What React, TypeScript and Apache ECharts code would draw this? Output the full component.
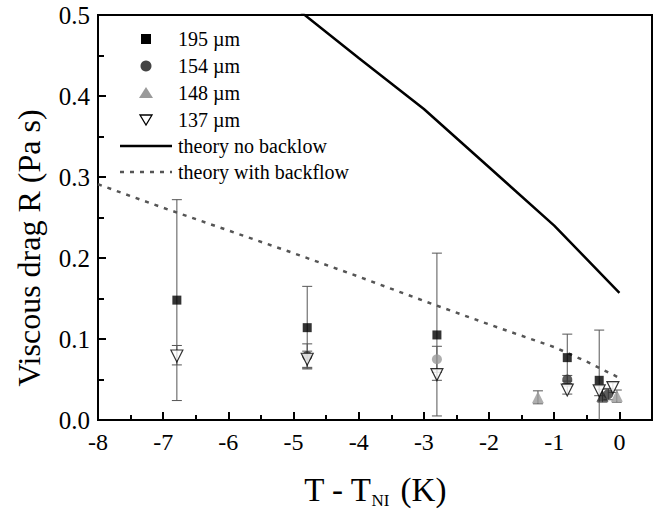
import React, { useEffect, useRef } from "react";
import * as echarts from "echarts";

const FONT = "Liberation Serif";

// x, y, low, high
const s195: number[][] = [
  [-6.79, 0.148, 0.024, 0.272],
  [-4.79, 0.114, 0.063, 0.165],
  [-2.8, 0.105, 0.005, 0.206],
  [-0.8, 0.077, 0.048, 0.106],
  [-0.31, 0.049, -0.013, 0.111],
];
const s154: number[][] = [
  [-4.79, 0.079, 0.064, 0.094],
  [-2.8, 0.075, 0.059, 0.091],
  [-0.8, 0.05, 0.045, 0.055],
  [-0.17, 0.032, 0.025, 0.039],
];
const s148: number[][] = [
  [-1.25, 0.028, 0.02, 0.036],
  [-0.26, 0.03, 0.022, 0.038],
  [-0.04, 0.03, 0.022, 0.037],
];
const s137: number[][] = [
  [-6.79, 0.079, 0.068, 0.092],
  [-4.79, 0.075, 0.065, 0.085],
  [-2.8, 0.056, 0.049, 0.062],
  [-0.8, 0.037, 0.032, 0.042],
  [-0.31, 0.036, 0.03, 0.042],
  [-0.1, 0.04, 0.034, 0.046],
];
const theoryNoBackflow: number[][] = [
  [-5, 0.511],
  [-4, 0.447],
  [-3, 0.384],
  [-2, 0.312],
  [-1, 0.24],
  [0, 0.157],
];
const theoryBackflow: number[][] = [
  [-8, 0.291],
  [-7, 0.262],
  [-6, 0.234],
  [-5, 0.206],
  [-4, 0.177],
  [-3, 0.147],
  [-2, 0.118],
  [-1, 0.09],
  [-0.5, 0.072],
  [0, 0.052],
];
const legendLabels = ["195 µm", "154 µm", "148 µm", "137 µm", "theory no backlow", "theory with backflow"];
const yTitle = "Viscous drag R (Pa s)";

const errSeries = (data: number[][]) => ({
  type: "custom",
  clip: true,
  z: 1,
  silent: true,
  data: data.map((d) => [d[0], d[2], d[3]]),
  renderItem: (params: any, api: any) => {
    const lo = api.coord([api.value(0), api.value(1)]);
    const hi = api.coord([api.value(0), api.value(2)]);
    const cw = 5;
    const st = { stroke: "#555", lineWidth: 1 };
    return {
      type: "group",
      children: [
        { type: "line", shape: { x1: lo[0], y1: lo[1], x2: hi[0], y2: hi[1] }, style: st },
        { type: "line", shape: { x1: lo[0] - cw, y1: lo[1], x2: lo[0] + cw, y2: lo[1] }, style: st },
        { type: "line", shape: { x1: hi[0] - cw, y1: hi[1], x2: hi[0] + cw, y2: hi[1] }, style: st },
      ],
    };
  },
});

export default function App() {
  const ref = useRef<HTMLDivElement>(null);
  useEffect(() => {
    if (!ref.current) return;
    const chart = echarts.init(ref.current, null, { renderer: "svg" });
    const lx = 146;
    const tx = 178;
    const rows = [39, 66, 93, 120, 146, 172];
    const textStyle = (t: string, y: number) => ({
      type: "text",
      x: tx,
      y,
      style: { text: t, fontFamily: FONT, fontSize: 20, fill: "#000", verticalAlign: "middle", align: "left" },
    });
    chart.setOption({
      animation: false,
      backgroundColor: "#fff",
      textStyle: { fontFamily: FONT },
      grid: { left: 98, right: 8, top: 15, bottom: 93, show: true, borderColor: "#000", borderWidth: 2 },
      xAxis: {
        type: "value",
        min: -8,
        max: 0.5,
        interval: 1,
        name: "T - T{sub|NI} (K)",
        nameLocation: "middle",
        nameGap: 50,
        nameTextStyle: {
          fontFamily: FONT,
          fontSize: 33,
          color: "#000",
          rich: { sub: { fontFamily: FONT, fontSize: 17, color: "#000", padding: [22, 3, 0, 0] } },
        },
        axisLine: { show: true, onZero: false, lineStyle: { color: "#000", width: 2 } },
        axisTick: { show: true, inside: true, length: 8, lineStyle: { color: "#000", width: 2 } },
        minorTick: { show: true, splitNumber: 2, length: 5, lineStyle: { color: "#000", width: 2 } },
        splitLine: { show: false },
        axisLabel: {
          show: true,
          fontFamily: FONT,
          fontSize: 24,
          color: "#000",
          margin: 10,
          showMaxLabel: false,
          formatter: (v: number) => (Math.abs(v - 0.5) < 1e-9 ? "" : String(v)),
        },
      },
      yAxis: {
        type: "value",
        min: 0,
        max: 0.5,
        interval: 0.1,
        axisLine: { show: true, onZero: false, lineStyle: { color: "#000", width: 2 } },
        axisTick: { show: true, inside: true, length: 8, lineStyle: { color: "#000", width: 2 } },
        minorTick: { show: true, splitNumber: 2, length: 6, lineStyle: { color: "#000", width: 2 } },
        splitLine: { show: false },
        axisLabel: {
          show: true,
          fontFamily: FONT,
          fontSize: 25,
          color: "#000",
          margin: 8,
          formatter: (v: number) => v.toFixed(1),
        },
      },
      series: [
        errSeries(s195),
        errSeries(s154),
        errSeries(s148),
        errSeries(s137),
        {
          name: "theory no backlow",
          type: "line",
          data: theoryNoBackflow,
          showSymbol: false,
          smooth: false,
          lineStyle: { color: "#000", width: 2.5 },
          z: 2,
        },
        {
          name: "theory with backflow",
          type: "line",
          data: theoryBackflow,
          showSymbol: false,
          lineStyle: { color: "#555", width: 2.5, type: [4, 6] },
          z: 2,
        },
        {
          name: "195 µm",
          type: "scatter",
          symbol: "rect",
          symbolSize: 9,
          itemStyle: { color: "#000" },
          data: s195.map((d) => [d[0], d[1]]),
          z: 5,
        },
        {
          name: "154 µm",
          type: "scatter",
          symbol: "circle",
          symbolSize: 10,
          itemStyle: { color: "#333" },
          data: s154.map((d) =>
            Math.abs(d[0] + 2.8) < 0.01
              ? { value: [d[0], d[1]], itemStyle: { color: "#9a9a9a" } }
              : { value: [d[0], d[1]] }
          ),
          z: 5,
        },
        {
          name: "148 µm",
          type: "scatter",
          symbol: "triangle",
          symbolSize: 12,
          itemStyle: { color: "#9a9a9a" },
          data: s148.map((d) =>
            Math.abs(d[0] + 0.26) < 0.01
              ? { value: [d[0], d[1]], itemStyle: { color: "#222" } }
              : { value: [d[0], d[1]] }
          ),
          z: 5,
        },
        {
          name: "137 µm",
          type: "scatter",
          symbol: "triangle",
          symbolRotate: 180,
          symbolSize: 12,
          itemStyle: { color: "#fff", borderColor: "#000", borderWidth: 1.2 },
          data: s137.map((d) => [d[0], d[1]]),
          z: 6,
        },
      ],
      graphic: [
        {
          type: "text",
          x: 29,
          y: 248,
          rotation: Math.PI / 2,
          style: { text: yTitle, fontFamily: FONT, fontSize: 32, fill: "#000", align: "center", verticalAlign: "middle" },
        },
        { type: "rect", shape: { x: lx - 5, y: rows[0] - 5, width: 10, height: 10 }, style: { fill: "#000" } },
        { type: "circle", shape: { cx: lx, cy: rows[1], r: 5.5 }, style: { fill: "#444" } },
        {
          type: "polygon",
          shape: { points: [[lx, rows[2] - 6], [lx + 7, rows[2] + 5], [lx - 7, rows[2] + 5]] },
          style: { fill: "#9a9a9a" },
        },
        {
          type: "polygon",
          shape: { points: [[lx - 6, rows[3] - 5], [lx + 6, rows[3] - 5], [lx, rows[3] + 5]] },
          style: { fill: "#fff", stroke: "#000", lineWidth: 1.3 },
        },
        { type: "line", shape: { x1: 120, y1: rows[4], x2: 172, y2: rows[4] }, style: { stroke: "#000", lineWidth: 2.5 } },
        {
          type: "line",
          shape: { x1: 120, y1: rows[5], x2: 172, y2: rows[5] },
          style: { stroke: "#555", lineWidth: 2.5, lineDash: [4, 6] },
        },
        ...legendLabels.map((t, i) => textStyle(t, rows[i])),
      ],
    });
    return () => chart.dispose();
  }, []);
  return <div ref={ref} style={{ width: 660, height: 514, position: "absolute", left: 0, top: 0 }} />;
}
